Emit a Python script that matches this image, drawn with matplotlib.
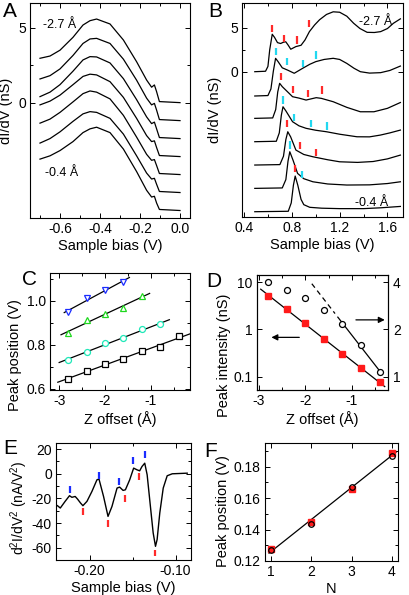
import numpy as np
import matplotlib
matplotlib.use("Agg")
import matplotlib.pyplot as plt

plt.rcParams['font.family'] = ['Liberation Sans', 'DejaVu Sans']
plt.rcParams['axes.unicode_minus'] = False
plt.rcParams['font.size'] = 9.5
plt.rcParams['mathtext.default'] = 'regular'

# ---------------- Panel A data ----------------
a_x = [-0.70, -0.65, -0.60, -0.535, -0.485, -0.45, -0.417, -0.35, -0.283, -0.217,
       -0.167, -0.142, -0.128, -0.117, -0.103, 0.0]
a_curves = [
    [2.96, 3.11, 3.5, 4.36, 5.18, 5.47, 5.58, 5.25, 4.18, 2.73, 1.51, 1.03, 1.18, 0.73, 0.07, 0.0],
    [2.78, 3.0, 3.45, 4.35, 5.15, 5.45, 5.49, 5.15, 4.1, 2.7, 1.5, 1.05, 1.15, 0.7, 0.07, 0.0],
    [2.8, 3.1, 3.6, 4.5, 5.25, 5.47, 5.45, 5.05, 4.0, 2.6, 1.45, 1.0, 1.1, 0.65, 0.07, 0.0],
    [3.45, 3.7, 4.1, 4.8, 5.35, 5.5, 5.45, 5.0, 3.95, 2.55, 1.4, 1.0, 1.05, 0.6, 0.07, 0.0],
    [3.43, 3.7, 4.15, 4.85, 5.4, 5.58, 5.5, 5.05, 3.95, 2.5, 1.35, 0.95, 1.0, 0.6, 0.07, 0.0],
    [3.3, 3.6, 4.05, 4.75, 5.25, 5.4, 5.35, 4.95, 3.9, 2.45, 1.3, 0.9, 0.95, 0.55, 0.07, 0.0],
    [3.43, 3.65, 4.0, 4.6, 5.2, 5.45, 5.56, 5.2, 4.1, 2.6, 1.35, 0.9, 0.95, 0.5, 0.07, 0.0],
]
a_offsets = [0, -1.2, -2.4, -3.6, -4.8, -6.0, -7.2]

# ---------------- Panel B data ----------------
b1_x = [0.49, 0.58, 0.60, 0.615, 0.636, 0.655, 0.68, 0.706, 0.73, 0.749, 0.77, 0.791, 0.834, 0.877,
        0.91, 0.947, 0.99, 1.032, 1.09, 1.146, 1.2, 1.26, 1.317, 1.37, 1.43, 1.49, 1.543, 1.6, 1.65, 1.708]
b1_y = [0, 0.05, 0.6, 2.5, 4.25, 3.9, 3.3, 3.2, 3.35, 3.4, 3.0, 2.55, 2.85, 3.0,
        3.6, 4.55, 5.3, 5.9, 6.5, 6.8, 6.75, 6.3, 5.5, 4.9, 4.47, 4.45, 4.55, 4.9, 5.5, 6.0]
b2_x = [0.49, 0.60, 0.625, 0.645, 0.664, 0.685, 0.72, 0.763, 0.82, 0.89, 0.95, 1.0, 1.07, 1.146,
        1.2, 1.26, 1.32, 1.373, 1.45, 1.543, 1.62, 1.708]
b2_y = [0, 0.05, 0.8, 2.8, 4.28, 3.9, 3.2, 2.95, 2.58, 3.14, 3.6, 3.9, 4.15, 4.28,
        4.15, 3.7, 3.15, 2.76, 2.6, 2.65, 2.9, 3.4]
b3_x = [0.49, 0.64, 0.665, 0.682, 0.698, 0.72, 0.763, 0.806, 0.86, 0.919, 1.004, 1.047, 1.146,
        1.26, 1.373, 1.487, 1.6, 1.708]
b3_y = [0, 0.05, 1.0, 3.0, 3.98, 3.6, 3.03, 2.46, 2.3, 2.08, 2.35, 2.27, 1.89,
        1.25, 0.75, 0.75, 1.14, 1.8]
b4_x = [0.49, 0.67, 0.695, 0.712, 0.726, 0.75, 0.806, 0.86, 0.919, 1.0, 1.09, 1.2, 1.345, 1.45,
        1.54, 1.62, 1.708]
b4_y = [0, 0.05, 1.0, 3.0, 3.97, 3.5, 2.27, 1.8, 1.52, 1.3, 1.13, 0.85, 0.56, 0.55,
        0.75, 1.0, 1.32]
b5_x = [0.49, 0.70, 0.73, 0.75, 0.766, 0.79, 0.834, 0.9, 0.976, 1.1, 1.2, 1.35, 1.48, 1.6, 1.708]
b5_y = [0, 0.05, 1.0, 2.9, 3.78, 3.2, 1.7, 1.2, 0.94, 0.6, 0.37, 0.3, 0.4, 0.7, 1.13]
b6_x = [0.49, 0.72, 0.75, 0.768, 0.783, 0.81, 0.848, 0.9, 0.976, 1.1, 1.26, 1.45, 1.6, 1.708]
b6_y = [0, 0.05, 1.0, 3.1, 4.16, 3.2, 1.7, 1.1, 0.75, 0.5, 0.38, 0.4, 0.55, 0.75]
b7_x = [0.49, 0.77, 0.795, 0.813, 0.828, 0.85, 0.877, 0.9, 0.95, 1.05, 1.2, 1.4, 1.55, 1.708]
b7_y = [0, 0.05, 1.0, 3.0, 4.05, 3.0, 1.4, 0.8, 0.5, 0.4, 0.35, 0.35, 0.45, 0.6]
b_offsets = [0, -2.76, -5.3, -7.95, -10.6, -13.25, -15.9]
b_red_x = [0.636, 0.734, 0.84, 0.94, 0.706, 0.806, 0.934, 1.053, 0.757, 0.871, 1.004, 0.828]
b_red_y = [4.9, 3.8, 3.6, 5.5, -0.57, -2.0, -2.45, -2.08, -5.86, -8.4, -9.2, -11.0]
b_cyan_x = [0.664, 0.763, 0.89, 0.999, 0.726, 0.82, 0.962, 1.098, 0.786, 0.885]
b_cyan_y = [2.27, 1.14, 0.95, 1.9, -3.22, -5.18, -5.86, -6.17, -8.33, -11.7]

# ---------------- Panel C data ----------------
c_sq_x = [-2.8, -2.4, -2.0, -1.6, -1.2, -0.8, -0.4]
c_sq_y = [0.647, 0.680, 0.712, 0.735, 0.772, 0.788, 0.839]
c_ci_x = [-2.8, -2.4, -2.0, -1.6, -1.2, -0.8]
c_ci_y = [0.732, 0.769, 0.806, 0.829, 0.870, 0.893]
c_up_x = [-2.8, -2.4, -2.0, -1.6, -1.2]
c_up_y = [0.854, 0.911, 0.940, 0.967, 1.020]
c_dn_x = [-2.8, -2.4, -2.0, -1.6]
c_dn_y = [0.948, 1.011, 1.048, 1.085]

# ---------------- Panel D data ----------------
d_x = [-2.8, -2.4, -2.0, -1.6, -1.2, -0.8, -0.4]
d_int = [5.2, 2.72, 1.35, 0.62, 0.303, 0.151, 0.076]
d_right = [4.0, 3.56, 3.16, 2.67, 2.16, 1.59, 1.07]

# ---------------- Panel E data ----------------
e_x = [-0.2373, -0.234, -0.2284, -0.2233, -0.2205, -0.2167, -0.214, -0.2105, -0.2077, -0.203,
       -0.1972, -0.1914, -0.189, -0.1837, -0.1785, -0.1739, -0.168, -0.165, -0.161, -0.1583,
       -0.1533, -0.1487, -0.1447, -0.1417, -0.139, -0.1358, -0.133, -0.1292, -0.126, -0.1233,
       -0.1214, -0.1183, -0.1143, -0.1097, -0.1038, -0.0864]
e_y = [-25.9, -27.8, -22.4, -17.8, -19.1, -18.4, -20.5, -23.7, -25.9, -22.4,
       -14.3, -4.9, -4.3, -18.4, -34.6, -26.5, -11.6, -10.8, -13.5, -13.0,
       -4.9, 4.6, 3.2, 2.4, 5.9, 8.6, -0.8, -26.5, -48.0, -58.9,
       -53.4, -31.8, -11.6, -1.6, 0.0, 0.5]
e_blue_x = [-0.2233, -0.189, -0.1661, -0.1495, -0.136]
e_blue_y = [-12.4, -1.6, -6.2, 10.5, 15.9]
e_red_x = [-0.2077, -0.1785, -0.1592, -0.1428, -0.1233]
e_red_y = [-30.5, -40.0, -19.7, -2.2, -64.3]

# ---------------- Panel F data ----------------
f_n = [1, 2, 3, 4]
f_sq = [0.1275, 0.1448, 0.1655, 0.1885]
f_ci = [0.127, 0.1435, 0.167, 0.187]

W, H = 410, 595
fig = plt.figure(figsize=(W / 100, H / 100), dpi=100)

TICK_FS = 10
LAB_FS = 10.5


def add_ax(l, r, t, b):
    return fig.add_axes([l / W, 1 - b / H, (r - l) / W, (b - t) / H])


def style(ax, right=True):
    ax.tick_params(which='both', direction='in', top=True, right=right, labelsize=TICK_FS, pad=3)
    ax.tick_params(which='major', length=3.5, width=0.7)
    ax.tick_params(which='minor', length=2, width=0.7)
    for s in ax.spines.values():
        s.set_linewidth(0.8)


def letter(x, y, s):
    fig.text(x / W, 1 - y / H, s, fontsize=15, ha='left', va='top')


lw = 0.9
# ---------- A ----------
axA = add_ax(30, 190, 3, 218)
for ys, off in zip(a_curves, a_offsets):
    axA.plot(a_x, np.array(ys) + off, color='black', lw=lw)
axA.set_xlim(-0.75, 0.05)
axA.set_ylim(-7.7, 6.65)
axA.set_xticks([-0.6, -0.4, -0.2, 0.0])
axA.set_xticklabels(['-0.6', '-0.4', '-0.2', '0.0'])
axA.set_xticks([-0.7, -0.5, -0.3, -0.1], minor=True)
axA.set_yticks([0, 5])
axA.set_yticks([2.5], minor=True)
axA.set_xlabel('Sample bias (V)', fontsize=LAB_FS, labelpad=2)
axA.set_ylabel('dI/dV (nS)', fontsize=LAB_FS, labelpad=4)
axA.text(-0.685, 5.0, '-2.7 Å', fontsize=9)
axA.text(-0.675, -4.9, '-0.4 Å', fontsize=9)
style(axA)
letter(3, 2, 'A')

# ---------- B ----------
axB = add_ax(242, 403, 3, 217)
bxs = [b1_x, b2_x, b3_x, b4_x, b5_x, b6_x, b7_x]
bys = [b1_y, b2_y, b3_y, b4_y, b5_y, b6_y, b7_y]
for xs, ys, off in zip(bxs, bys, b_offsets):
    axB.plot(xs, np.array(ys) + off, color='black', lw=lw)
tl = 0.42
axB.vlines(b_red_x, np.array(b_red_y) - tl, np.array(b_red_y) + tl, color='#ff2a2a', lw=1.6)
axB.vlines(b_cyan_x, np.array(b_cyan_y) - tl, np.array(b_cyan_y) + tl, color='#22d8f0', lw=1.6)
axB.set_xlim(0.383, 1.73)
axB.set_ylim(-16.5, 7.8)
axB.set_xticks([0.4, 0.8, 1.2, 1.6])
axB.set_xticks([0.6, 1.0, 1.4], minor=True)
axB.set_yticks([0, 5])
axB.set_yticks([2.5], minor=True)
axB.set_xlabel('Sample bias (V)', fontsize=LAB_FS, labelpad=2)
axB.set_ylabel('dI/dV (nS)', fontsize=LAB_FS, labelpad=6)
axB.text(1.36, 5.3, '-2.7 Å', fontsize=9)
axB.text(1.33, -15.3, '-0.4 Å', fontsize=9)
style(axB)
letter(208, 2, 'B')

# ---------- C ----------
axC = add_ax(50, 190, 273, 390)
ms = 4.3
sets = [
    (c_sq_x, c_sq_y, 's', 'black', (-3.03, -0.16)),
    (c_ci_x, c_ci_y, 'o', '#1ee8b8', (-3.0, -0.6)),
    (c_up_x, c_up_y, '^', '#1ed81e', (-2.96, -1.03)),
    (c_dn_x, c_dn_y, 'v', '#1a2cff', (-2.89, -1.47)),
]
for xs, ys, m, col, ext in sets:
    k, b0 = np.polyfit(xs, ys, 1)
    xx = np.array(ext)
    axC.plot(xx, k * xx + b0, color='black', lw=0.9, zorder=1)
    axC.plot(xs, ys, ls='none', marker=m, ms=ms, mfc='white', mec=col, mew=0.9, zorder=2)
axC.set_xlim(-3.2, -0.15)
axC.set_ylim(0.595, 1.125)
axC.set_xticks([-3, -2, -1])
axC.set_xticks([-2.5, -1.5, -0.5], minor=True)
axC.set_yticks([0.6, 0.8, 1.0])
axC.set_yticklabels(['0.6', '0.8', '1.0'])
axC.set_yticks([0.7, 0.9, 1.1], minor=True)
axC.set_xlabel('Z offset (Å)', fontsize=LAB_FS, labelpad=2)
axC.set_ylabel('Peak position (V)', fontsize=LAB_FS, labelpad=3)
axC.yaxis.label.set_y(0.30)
style(axC)
letter(22, 270, 'C')

# ---------- D ----------
axD = add_ax(257, 388, 275, 390)
axD.set_yscale('log')
kd, bd = np.polyfit(d_x, np.log10(d_int), 1)
xx = np.array([-2.96, -0.29])
axD.plot(xx, 10 ** (kd * xx + bd), color='black', lw=0.9, zorder=1)
axD.plot(d_x, d_int, ls='none', marker='s', ms=4.6, color='#ff1a1a', mec='#ff1a1a', zorder=2)
axD.set_xlim(-3.04, -0.22)
axD.set_ylim(0.052, 14.3)
axD.set_yticks([0.1, 1, 10])
axD.set_yticklabels(['0.1', '1', '10'])
axD.yaxis.set_minor_locator(matplotlib.ticker.NullLocator())
axD.set_xticks([-3, -2, -1])
axD.set_xticks([-2.5, -1.5, -0.5], minor=True)
axD.set_xlabel('Z offset (Å)', fontsize=LAB_FS, labelpad=2)
axD.set_ylabel('Peak intensity (nS)', fontsize=LAB_FS, labelpad=2)
axD.yaxis.label.set_y(0.30)
style(axD, right=False)
axD.annotate('', xy=(-2.79, 0.68), xytext=(-2.07, 0.68),
             arrowprops=dict(arrowstyle='-|>', color='black', lw=0.9, mutation_scale=9))
axD2 = axD.twinx()
axD2.set_yscale('log')
axD2.set_ylim(0.82, 4.45)
kr, br = np.polyfit(d_x[4:], np.log10(d_right[4:]), 1)
xs_solid = np.array([-1.3, -0.35])
xs_dash = np.array([-1.86, -1.36])
axD2.plot(xs_solid, 10 ** (kr * xs_solid + br), color='black', lw=0.9, zorder=1)
axD2.plot(xs_dash, 10 ** (kr * xs_dash + br), color='black', lw=0.9, ls=(0, (4, 3)), zorder=1)
axD2.plot(d_x, d_right, ls='none', marker='o', ms=4.3, mfc='white', mec='black', mew=0.9, zorder=2)
axD2.set_yticks([1, 2, 4])
axD2.set_yticklabels(['1', '2', '4'])
axD2.yaxis.set_minor_locator(matplotlib.ticker.NullLocator())
axD2.tick_params(which='both', direction='in', labelsize=TICK_FS, length=3.5, width=0.7)
axD2.annotate('', xy=(-0.23, 2.3), xytext=(-0.97, 2.3),
              arrowprops=dict(arrowstyle='-|>', color='black', lw=0.9, mutation_scale=9))
letter(206, 272, 'D')

# ---------- E ----------
axE = add_ax(56, 191, 443, 560)
axE.plot(e_x, e_y, color='black', lw=1.0)
et = 2.8
axE.vlines(e_blue_x, np.array(e_blue_y) - et, np.array(e_blue_y) + et, color='#1a2cff', lw=1.6)
axE.vlines(e_red_x, np.array(e_red_y) - et, np.array(e_red_y) + et, color='#ff2a2a', lw=1.6)
axE.set_xlim(-0.239, -0.082)
axE.set_ylim(-70, 25)
axE.set_xticks([-0.20, -0.10])
axE.set_xticklabels(['-0.20', '-0.10'])
axE.set_xticks([-0.15], minor=True)
axE.set_yticks([-60, -40, -20, 0, 20])
axE.set_yticks([-50, -30, -10, 10], minor=True)
axE.set_xlabel('Sample bias (V)', fontsize=LAB_FS, labelpad=2)
axE.set_ylabel('$d^2I/dV^2$ $(nA/V^2)$', fontsize=10, labelpad=1)
axE.yaxis.label.set_y(0.45)
style(axE)
letter(3, 439, 'E')

# ---------- F ----------
axF = add_ax(265, 398, 443, 561)
kf, bf = np.polyfit(f_n, f_sq, 1)
xx = np.array([0.95, 4.12])
axF.plot(xx, kf * xx + bf, color='black', lw=0.9, zorder=1)
axF.plot(f_n, f_sq, ls='none', marker='s', ms=4.6, color='#ff1a1a', zorder=2)
axF.plot(f_n, f_ci, ls='none', marker='o', ms=4.0, mfc='none', mec='black', mew=0.9, zorder=3)
axF.set_xlim(0.85, 4.15)
axF.set_ylim(0.12, 0.195)
axF.set_xticks([1, 2, 3, 4])
axF.set_yticks([0.12, 0.14, 0.16, 0.18])
axF.set_yticklabels(['0.12', '0.14', '0.16', '0.18'])
axF.set_yticks([0.13, 0.15, 0.17, 0.19], minor=True)
axF.set_xlabel('N', fontsize=LAB_FS, labelpad=2)
axF.set_ylabel('Peak position (V)', fontsize=LAB_FS, labelpad=3)
axF.yaxis.label.set_y(0.42)
style(axF)
letter(204, 442, 'F')

fig.savefig('out.png', dpi=100)
